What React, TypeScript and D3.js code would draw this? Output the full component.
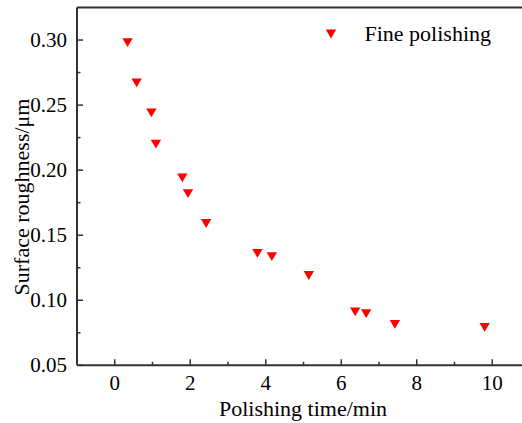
import React from "react";
import * as d3 from "d3";

const times: number[] = [0.34, 0.58, 0.97, 1.09, 1.79, 1.94, 2.42, 3.78, 4.16, 5.14, 6.37, 6.66, 7.42, 9.8];
const roughness: number[] = [0.298, 0.267, 0.244, 0.22, 0.194, 0.182, 0.159, 0.136, 0.1335, 0.119, 0.091, 0.0897, 0.0815, 0.0792];
const xTicks: number[] = [0, 2, 4, 6, 8, 10];
const xMinor: number[] = [1, 3, 5, 7, 9];
const yTicks: number[] = [0.05, 0.1, 0.15, 0.2, 0.25, 0.3];
const yMinor: number[] = [0.075, 0.125, 0.175, 0.225, 0.275];
const seriesName = "Fine polishing";
const xTitle = "Polishing time/min";
const yTitle = "Surface roughness/μm";

const W = 522;
const H = 423;
const left = 77;
const top = 7.5;
const bottom = 365.3;

export default function App() {
  const x = d3.scaleLinear().domain([-1, 11]).range([left, left + 12 * 37.75]);
  const y = d3.scaleLinear().domain([0.05, 0.325]).range([bottom, top]);
  const axisColor = "#333";
  const fontStyle = { fontFamily: '"Liberation Serif", "DejaVu Serif", serif' };
  const tri = (cx: number, cy: number) =>
    `M${cx - 5.2},${cy - 4.4}L${cx + 5.2},${cy - 4.4}L${cx},${cy + 4.4}Z`;
  const right = x(11);
  return (
    <svg
      width={W}
      height={H}
      style={{ position: "absolute", left: 0, top: 0, background: "#fff", ...fontStyle }}
    >
      <rect x={0} y={0} width={W} height={H} fill="#fff" />
      <line x1={left} x2={right} y1={top} y2={top} stroke={axisColor} strokeWidth={2} />
      <line x1={left} x2={right} y1={bottom} y2={bottom} stroke={axisColor} strokeWidth={2} />
      <line x1={left} x2={left} y1={top} y2={bottom} stroke={axisColor} strokeWidth={2} />
      <line x1={right} x2={right} y1={top} y2={bottom} stroke={axisColor} strokeWidth={2} />
      {xTicks.map((t) => (
        <g key={"xt" + t}>
          <line x1={x(t)} x2={x(t)} y1={bottom} y2={bottom - 6} stroke={axisColor} strokeWidth={1.5} />
          <text x={x(t)} y={390} textAnchor="middle" fontSize={21} fill="#000" style={fontStyle}>
            {t}
          </text>
        </g>
      ))}
      {xMinor.map((t) => (
        <line key={"xm" + t} x1={x(t)} x2={x(t)} y1={bottom} y2={bottom - 3.5} stroke={axisColor} strokeWidth={1.5} />
      ))}
      {yTicks.map((t) => (
        <g key={"yt" + t}>
          <line x1={left} x2={left + 6} y1={y(t)} y2={y(t)} stroke={axisColor} strokeWidth={1.5} />
          <text x={67} y={y(t) + 7} textAnchor="end" fontSize={21} fill="#000" style={fontStyle}>
            {t.toFixed(2)}
          </text>
        </g>
      ))}
      {yMinor.map((t) => (
        <line key={"ym" + t} x1={left} x2={left + 3.5} y1={y(t)} y2={y(t)} stroke={axisColor} strokeWidth={1.5} />
      ))}
      <text x={303} y={416} textAnchor="middle" fontSize={22} fill="#000" style={fontStyle}>
        {xTitle}
      </text>
      <text
        transform={`translate(29,197) rotate(-90)`}
        textAnchor="middle"
        fontSize={22}
        fill="#000"
        style={fontStyle}
      >
        {yTitle}
      </text>
      {times.map((t, i) => (
        <path key={"p" + i} d={tri(x(t), y(roughness[i]))} fill="#ff0000" />
      ))}
      <path d={tri(331, 34)} fill="#ff0000" />
      <text x={364.5} y={41} fontSize={22} fill="#000" style={fontStyle}>
        {seriesName}
      </text>
    </svg>
  );
}
